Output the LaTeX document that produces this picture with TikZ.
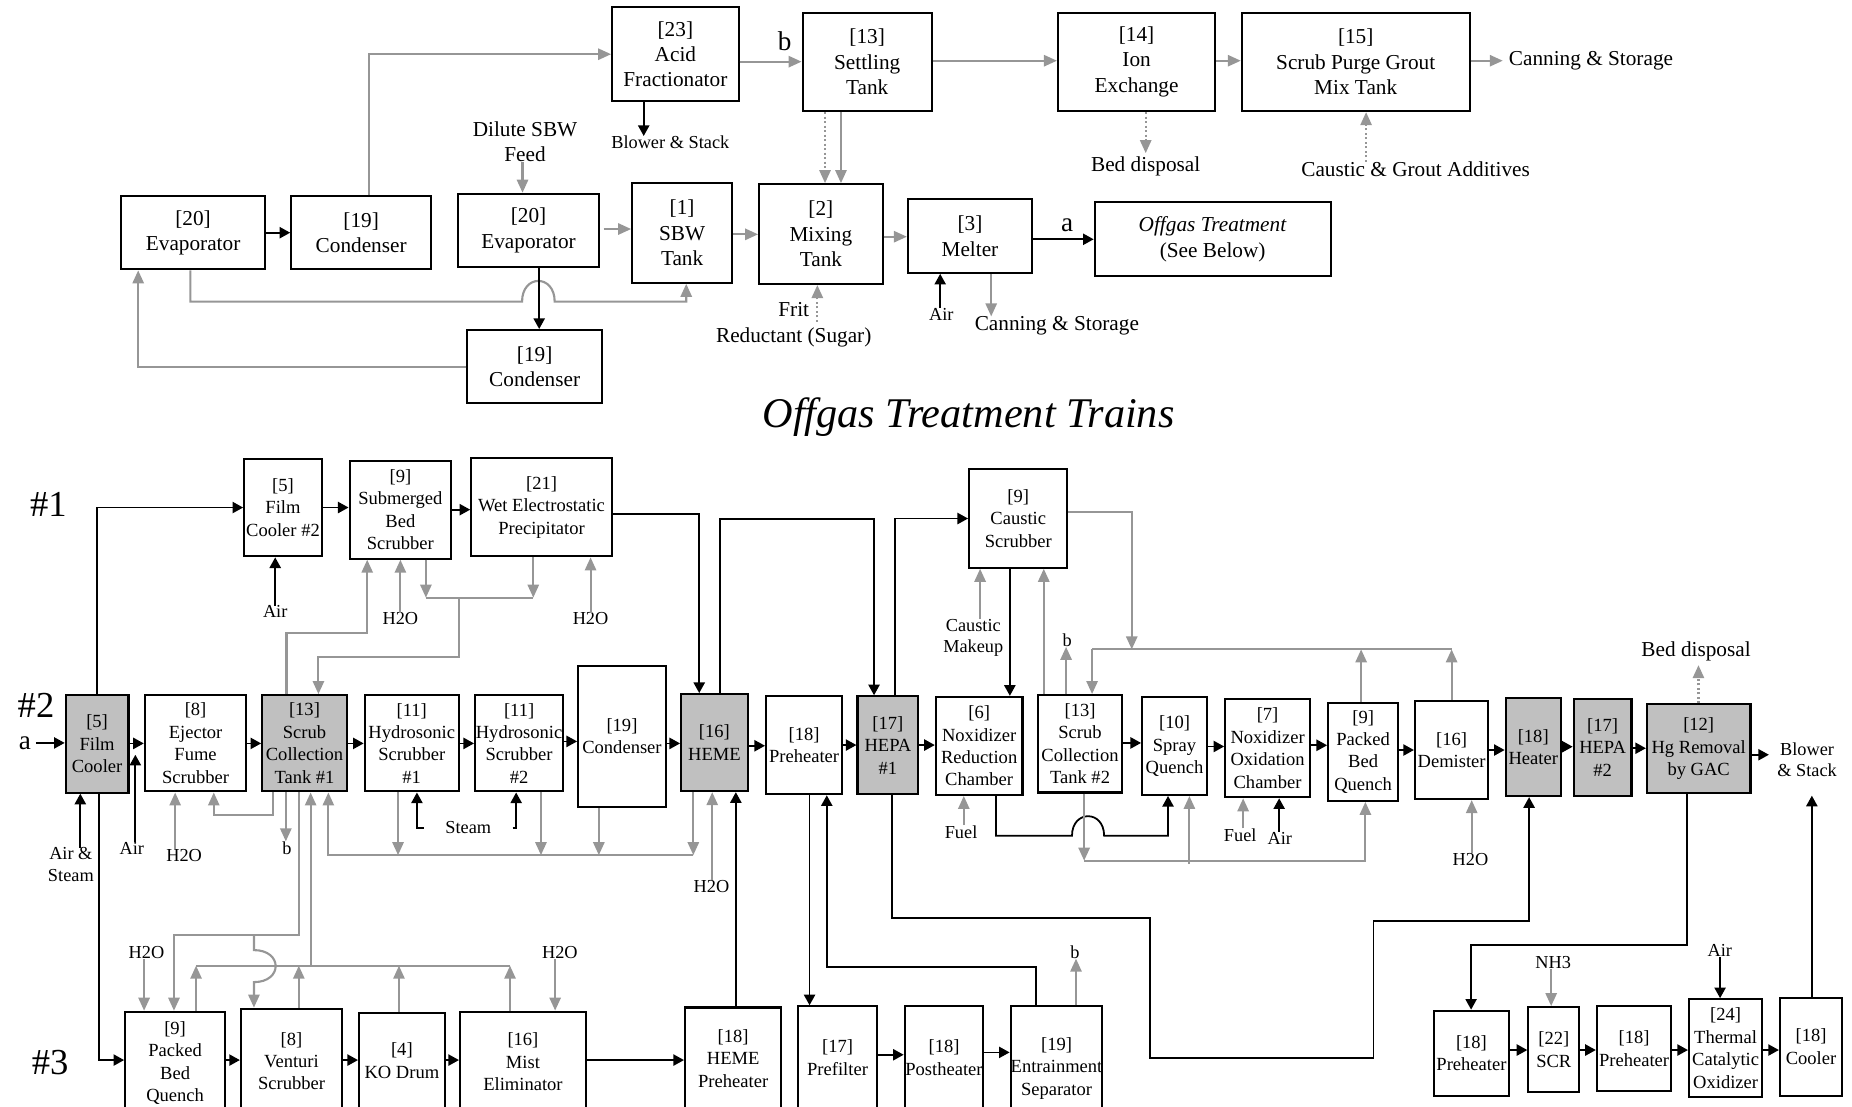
\documentclass[tikz,border=0pt]{standalone}
\usepackage{xcolor}
\usepackage{fontspec}
\setmainfont{Liberation Serif}
\usepackage{pgf,tikz}
\usetikzlibrary{arrows.meta}
\definecolor{flowgray}{RGB}{150,150,150}
\definecolor{boxgray}{RGB}{192,192,192}
\tikzset{
  font={\fontsize{15.7pt}{19pt}\selectfont}}
\tikzset{wh/.style 2 args = {minimum width=#1pt, minimum height=#2pt}}
\newcommand{\topsize}{\fontsize{18pt}{21.5pt}\selectfont}
\newcommand{\labsize}{\fontsize{15.5pt}{18pt}\selectfont}
\newcommand{\letsize}{\fontsize{23pt}{26pt}\selectfont}
\newcommand{\trainsize}{\fontsize{31pt}{34pt}\selectfont}

\begin{document}
\begin{tikzpicture}[x=1pt, y=-1pt]

    \tikzset{edge/.style = {->, > = {Triangle[length=9pt, width=9.5pt]}, line width=1.5pt},
             gedge/.style = {->, > = {Triangle[length=11pt, width=9.5pt]}, line width=1.8pt, color=flowgray},
             gline/.style = {line width=1.8pt, color=flowgray},
             procbox/.style = {draw=black, rectangle, line width=1.8pt, inner sep=0pt, align=center},
             greybox/.style = {procbox, fill=boxgray},
             topbox/.style = {procbox, font=\topsize},
             lab/.style = {inner sep=0pt, align=center, font=\labsize},
             toplab/.style = {inner sep=0pt, align=center, font=\topsize}}

    \useasboundingbox (0,0) rectangle (1568,937);
    \clip (0,0) rectangle (1568,937);

    % vertices (feed side)
    \node[topbox, wh={122}{62}] (evapA) at (163.5,197) {[20]\\Evaporator};
    \node[topbox, wh={118.4}{62}] (condA) at (305.8,197) {[19]\\Condenser};
    \node[topbox, wh={119.5}{62.3}] (evapB) at (447.5,195.2) {[20]\\Evaporator};
    \node[topbox, wh={84.5}{84.2}] (sbwT) at (577.5,197.3) {[1]\\SBW\\Tank};
    \node[topbox, wh={104.5}{84.5}] (mixT) at (695,198.2) {[2]\\Mixing\\Tank};
    \node[topbox, wh={105}{62.1}] (melter) at (821.2,199.9) {[3]\\Melter};
    \node[topbox, wh={199.7}{62.4}] (offgas) at (1026.7,202.5) {\textit{Offgas Treatment}\\(See Below)};
    \node[topbox, wh={114}{62.1}] (condB) at (452.7,310.5) {[19]\\Condenser};
    \node[topbox, wh={107}{79.3}] (acidF) at (571.8,45.9) {[23]\\Acid\\Fractionator};
    \node[topbox, wh={109.3}{83.3}] (settle) at (734.2,52.4) {[13]\\Settling\\Tank};
    \node[topbox, wh={133.1}{83.3}] (ionX) at (962.3,52.4) {[14]\\Ion\\Exchange};
    \node[topbox, wh={192.8}{83.3}] (grout) at (1147.8,52.4) {[15]\\Scrub Purge Grout\\Mix Tank};

    \node[lab] (blowA) at (567.5,120.8) {Blower \& Stack};
    \node[toplab] (bedTop) at (970,141) {Bed disposal};
    \node[toplab] (caustTop) at (1198.5,143.4) {Caustic \& Grout Additives};
    \node[toplab] (canTop) at (1347,51.6) {Canning \& Storage};
    \node[toplab] (dilute) at (444.5,120) {Dilute SBW\\Feed};
    \node[toplab] (frit) at (672,275) {Frit\\Reductant (Sugar)};
    \node[lab] (airTop) at (797,266) {Air};
    \node[toplab] (canBot) at (894.8,276) {Canning \& Storage};
    \node[inner sep=0pt, font=\letsize] (bTop) at (664.4,35.3) {b};
    \node[inner sep=0pt, font=\letsize] (aTop) at (903.5,190.5) {a};
    \coordinate (fritIn) at (692,272.4);

    %edges (feed side)
    \draw[edge] (evapA) -- (condA);
    \draw[gedge] ([xshift=6.6pt]condA.north) |- (acidF.west);
    \draw[edge] (acidF.south -| 545,0) -- (blowA.north -| 545,0);
    \draw[gedge] (acidF.east |- 0,52.2) -- (settle.west |- 0,52.2);
    \draw[gedge] (settle.east |- 0,51.4) -- (ionX.west |- 0,51.4);
    \draw[gedge] (ionX.east |- 0,51.4) -- (grout.west |- 0,51.4);
    \draw[gedge, shorten >=5pt] (grout.east |- 0,51.4) -- (canTop.west |- 0,51.4);
    \draw[gedge, dotted, shorten >=3pt] (ionX.south -| 970,0) -- (bedTop.north -| 970,0);
    \draw[gedge, dotted] (caustTop.north -| 1156.6,0) -- (grout.south -| 1156.6,0);
    \draw[gedge, dotted] (settle.south -| 698.5,0) -- (mixT.north -| 698.5,0);
    \draw[gedge] (settle.south -| 712,0) -- (mixT.north -| 712,0);
    \draw[gedge] (dilute.south -| 442.4,0) -- (evapB.north -| 442.4,0);
    \draw[gedge, shorten <=3pt] (evapB.east |- 0,193.9) -- (sbwT.west |- 0,193.9);
    \draw[gedge] (sbwT.east |- 0,198.4) -- (mixT.west |- 0,198.4);
    \draw[gedge] (mixT.east |- 0,200.4) -- (melter.west |- 0,200.4);
    \draw[edge] (melter.east |- 0,202.6) -- (offgas.west |- 0,202.6);
    \draw[edge] (airTop.north -| 796,0) -- (melter.south -| 796,0);
    \draw[gedge] (melter.south -| 839.2,0) -- (canBot.north -| 839.2,0);
    \draw[gedge, dotted] (fritIn) -- (mixT.south -| fritIn);
    \draw[gedge] (evapA.south -| 161.2,0) -- (161.2,255.4) -- (442,255.4)
        .. controls (442,232) and (469.6,232) .. (469.6,255.4) -| (sbwT.south -| 581,0);
    \draw[edge] (evapB.south -| 456.5,0) -- (condB.north -| 456.5,0);
    \draw[gedge] (condB.west) -| (evapA.south -| 117,0);

    \node[inner sep=0pt, font=\fontsize{35.8pt}{40pt}\selectfont\itshape] (title) at (820,353) {Offgas Treatment Trains};

    % vertices (train #1)
    \node[procbox, wh={65.7}{82.6}] (film2) at (239.6,429.7) {[5]\\Film\\Cooler \#2};
    \node[procbox, wh={86}{83}] (subBed) at (339,431.5) {[9]\\Submerged\\Bed\\Scrubber};
    \node[procbox, wh={119}{83}] (wesp) at (458.5,429.5) {[21]\\Wet Electrostatic\\Precipitator};
    \node[procbox, wh={83.2}{83.3}] (causS) at (862.1,439) {[9]\\Caustic\\Scrubber};

    % vertices (train #2)
    \node[greybox, wh={53.1}{82.5}] (film1) at (82.2,629.8) {[5]\\Film\\Cooler};
    \node[procbox, wh={85.9}{81.5}] (ejector) at (165.6,629.3) {[8]\\Ejector\\Fume\\Scrubber};
    \node[greybox, wh={71.6}{81.5}] (scrub1) at (257.8,629.3) {[13]\\Scrub\\Collection\\Tank \#1};
    \node[procbox, wh={79.6}{81.5}] (hydro1) at (348.6,629.3) {[11]\\Hydrosonic\\Scrubber\\\#1};
    \node[procbox, wh={74.5}{81.5}] (hydro2) at (439.5,629.3) {[11]\\Hydrosonic\\Scrubber\\\#2};
    \node[procbox, wh={74.2}{119.4}] (cond2) at (526.6,623.3) {[19]\\Condenser};
    \node[greybox, wh={56.3}{82.1}] (heme) at (604.85,628.75) {[16]\\HEME};
    \node[procbox, wh={64.4}{82.9}] (preh1) at (680.8,631) {[18]\\Preheater};
    \node[greybox, wh={51.5}{82.9}] (hepa1) at (751.75,631) {[17]\\HEPA\\\#1};
    \node[procbox, wh={73.3}{83}] (noxRed) at (829,631.5) {[6]\\Noxidizer\\Reduction\\Chamber};
    \node[procbox, wh={71.8}{82.5}] (scrub2) at (914.4,629.75) {[13]\\Scrub\\Collection\\Tank \#2};
    \node[procbox, wh={54.8}{82.6}] (spray) at (994.4,631.7) {[10]\\Spray\\Quench};
    \node[procbox, wh={71.7}{83}] (noxOx) at (1073.2,633.5) {[7]\\Noxidizer\\Oxidation\\Chamber};
    \node[procbox, wh={59.2}{83}] (packed1) at (1154.1,636.5) {[9]\\Packed\\Bed\\Quench};
    \node[procbox, wh={62}{83}] (demist) at (1229,635) {[16]\\Demister};
    \node[greybox, wh={46.6}{83.3}] (heater) at (1298.1,632.35) {[18]\\Heater};
    \node[greybox, wh={48.9}{82.4}] (hepa2) at (1356.85,632.8) {[17]\\HEPA\\\#2};
    \node[greybox, wh={87.6}{75.3}] (hgGAC) at (1438.2,634) {[12]\\Hg Removal\\by GAC};

    % vertices (train #3)
    \node[procbox, wh={84.5}{86.8}] (packed3) at (148.25,900) {[9]\\Packed\\Bed\\Quench};
    \node[procbox, wh={85.6}{88.8}] (venturi) at (246.8,898.4) {[8]\\Venturi\\Scrubber};
    \node[procbox, wh={72.5}{80.4}] (koDrum) at (340.25,898) {[4]\\KO Drum};
    \node[procbox, wh={106.5}{85}] (mist) at (442.75,899) {[16]\\Mist\\Eliminator};
    \node[procbox, wh={81.5}{86}] (hemeP) at (620.75,896) {[18]\\HEME\\Preheater};
    \node[procbox, wh={66.6}{87}] (prefilt) at (709.1,895.5) {[17]\\Prefilter};
    \node[procbox, wh={66.5}{87}] (posth) at (799.25,895.5) {[18]\\Postheater};
    \node[procbox, wh={77}{105.2}] (entrain) at (894.5,904.6) {[19]\\Entrainment\\Separator};
    \node[procbox, wh={63.6}{72}] (preh2) at (1245.8,891.7) {[18]\\Preheater};
    \node[procbox, wh={43}{71.9}] (scr) at (1315.5,888.65) {[22]\\SCR};
    \node[procbox, wh={63}{72}] (preh3) at (1383.5,887.8) {[18]\\Preheater};
    \node[procbox, wh={62}{82.6}] (thermo) at (1461,887.3) {[24]\\Thermal\\Catalytic\\Oxidizer};
    \node[procbox, wh={52.6}{83}] (cooler) at (1533.3,886.2) {[18]\\Cooler};

    % labels
    \node[inner sep=0pt, font=\trainsize] (tr1) at (41,427) {\#1};
    \node[inner sep=0pt, font=\trainsize] (tr2) at (30.5,597) {\#2};
    \node[inner sep=0pt, font=\trainsize] (tr3) at (42.5,900) {\#3};
    \node[inner sep=0pt, font=\letsize] (aLeft) at (21,629) {a};
    \node[lab] (airA) at (233,518) {Air};
    \node[lab] (h2oA) at (339,524) {H2O};
    \node[lab] (h2oB) at (500,524) {H2O};
    \node[lab] (airSteam) at (60,732) {Air \&\\Steam};
    \node[lab] (air2) at (111.6,718) {Air};
    \node[lab] (h2oC) at (155.9,724) {H2O};
    \node[lab] (bA) at (243,718) {b};
    \node[lab] (steam) at (396.5,701) {Steam};
    \node[lab] (h2oD) at (602.4,750.8) {H2O};
    \node[lab] (h2oE) at (124,806.6) {H2O};
    \node[lab] (h2oF) at (474,806.6) {H2O};
    \node[lab] (bB) at (910,806) {b};
    \node[lab] (caustic) at (824,540) {Caustic\\Makeup};
    \node[lab] (bC) at (903.5,542) {b};
    \node[lab] (fuelA) at (813.7,704.2) {Fuel};
    \node[lab] (fuelB) at (1050,707) {Fuel};
    \node[lab] (airN) at (1083.5,709.6) {Air};
    \node[lab] (h2oG) at (1245,728) {H2O};
    \node[toplab] (bedBot) at (1436,551.8) {Bed disposal};
    \node[lab] (blower) at (1530,643) {Blower\\\& Stack};
    \node[lab] (nh3) at (1315,815) {NH3};
    \node[lab] (airT) at (1456,805) {Air};
    \coordinate (airJoin) at (114.6,639);
    \coordinate (jL) at (360.6,506);
    \coordinate (jR) at (451.5,506);

    %edges (train #1)
    \draw[edge, shorten <=4pt] (aLeft.east) -- (film1.west |- aLeft.east);
    \draw[edge] (film1.north) |- (film2.west);
    \draw[edge] (film2.east) -- (film2.east -| subBed.west);
    \draw[edge] (subBed.east) -- (subBed.east -| wesp.west);
    \draw[edge] (wesp.east |- 0,435) -| ([xshift=-12.85pt]heme.north);
    \draw[edge] (airA.north) -- (film2.south -| airA.north);
    \draw[gedge] (h2oA.north) -- (subBed.south -| h2oA.north);
    \draw[gedge] (h2oB.north) -- (wesp.south -| h2oB.north);
    \draw[gedge] (subBed.south -| jL) -- (jL);
    \draw[gedge] (wesp.south -| jR) -- (jR);
    \draw[gline] (jL) -- (jR);
    \draw[gedge] (388.4,506) |- (269.6,556) -- (scrub1.north -| 269.6,0);
    \draw[gedge] (scrub1.north -| 242.6,0) |- (310.9,536) -- (subBed.south -| 310.9,0);

    %edges (train #2)
    \draw[edge] (film1.east |- 0,629.4) -- (ejector.west |- 0,629.4);
    \draw[edge] (ejector.east |- 0,629.4) -- (scrub1.west |- 0,629.4);
    \draw[edge] (scrub1.east |- 0,629.4) -- (hydro1.west |- 0,629.4);
    \draw[edge] (hydro1.east |- 0,629.4) -- (hydro2.west |- 0,629.4);
    \draw[edge] (hydro2.east |- 0,627.7) -- (cond2.west |- 0,627.7);
    \draw[edge] (cond2.east |- 0,629.4) -- (heme.west |- 0,629.4);
    \draw[edge] (heme.east |- 0,631.4) -- (preh1.west |- 0,631.4);
    \draw[edge] (preh1.east |- 0,630.8) -- (hepa1.west |- 0,630.8);
    \draw[edge] (hepa1.east |- 0,630.8) -- (noxRed.west |- 0,630.8);
    \draw[edge] (scrub2.east |- 0,629) -- (spray.west |- 0,629);
    \draw[edge] (spray.east |- 0,632) -- (noxOx.west |- 0,632);
    \draw[edge] (noxOx.east |- 0,631) -- (packed1.west |- 0,631);
    \draw[edge] (packed1.east |- 0,635) -- (demist.west |- 0,635);
    \draw[edge] (demist.east |- 0,635) -- (heater.west |- 0,635);
    \draw[edge] (heater.east |- 0,632.2) -- (hepa2.west |- 0,632.2);
    \draw[edge] (hepa2.east |- 0,633.5) -- (hgGAC.west |- 0,633.5);
    \draw[edge, shorten >=7pt] (hgGAC.east |- 0,639) -- (blower.west |- 0,639);
    \draw[gedge, dotted, shorten >=3pt] (hgGAC.north -| 1438,0) -- (bedBot.south -| 1438,0);
    \draw[edge] (airSteam.north -| 68,0) -- (film1.south -| 68,0);
    \draw[edge] (air2.north -| airJoin) -- (airJoin);
    \draw[gedge] (h2oC.north -| 148.3,0) -- (ejector.south -| 148.3,0);
    \draw[gedge] (scrub1.south -| 231.3,0) |- (181,690) -- (ejector.south -| 181,0);
    \draw[gedge] (scrub1.south -| 242,0) -- (bA.north -| 242,0);
    \draw[gedge] (hydro1.south -| 337,0) -- (337,724);
    \draw[gedge] (hydro2.south -| 458,0) -- (458,724);
    \draw[gedge] (cond2.south -| 507,0) -- (507,724);
    \draw[gedge] (heme.south -| 587,0) -- (587,724);
    \draw[gedge] (587,724) -- (278,724) -- (scrub1.south -| 278,0);
    \draw[edge] ([xshift=-18pt]steam.west) -| (hydro1.south -| 353,0);
    \draw[edge] ([xshift=18pt]steam.east) -| (hydro2.south -| 437,0);
    \draw[gedge] (h2oD.north -| 603,0) -- (heme.south -| 603,0);
    \draw[edge] (heme.north -| 609.7,0) |- (740,439.7) -- (hepa1.north -| 740,0);
    \draw[edge] (hepa1.north -| 758,0) |- (causS.west);
    \draw[edge] (causS.south -| 855,0) -- (noxRed.north -| 855,0);
    \draw[gedge] (caustic.north -| 829.8,0) -- (causS.south -| 829.8,0);
    \draw[gedge] (scrub2.north -| 883.7,0) -- (causS.south -| 883.7,0);
    \draw[gedge] (scrub2.north -| 902.6,0) -- (bC.south -| 902.6,0);
    \draw[gedge] (causS.east |- 0,433.3) -| (958.2,549.8);
    \draw[gline] (924.6,549.8) -- (1229,549.8);
    \draw[gedge] (924.6,549.8) -- (scrub2.north -| 924.6,0);
    \draw[gedge] (packed1.north -| 1152.4,0) -- (1152.4,549.8);
    \draw[gedge] (demist.north -| 1229,0) -- (1229,549.8);
    \draw[edge] (noxRed.south -| 843.3,0) |- (907.6,707.6)
        .. controls (907.6,685.5) and (934.8,685.5) .. (934.8,707.6) -| (spray.south -| 988.9,0);
    \draw[gedge] (scrub2.south -| 917.9,0) -- (917.9,728.7);
    \draw[gedge] (917.9,728.7) -| (packed1.south -| 1156,0);
    \draw[gedge] (1007,731.6) -- (spray.south -| 1007,0);
    \draw[gedge] (fuelA.north -| 816,0) -- (noxRed.south -| 816,0);
    \draw[gedge] (fuelB.north -| 1052.5,0) -- (noxOx.south -| 1052.5,0);
    \draw[edge] (airN.north -| 1083,0) -- (noxOx.south -| 1083,0);
    \draw[gedge] (h2oG.north -| 1246,0) -- (demist.south -| 1246,0);

    %edges (train #3)
    \draw[edge] (film1.south -| 84,0) |- (packed3.west |- 0,897.5);
    \draw[gedge] (scrub1.south -| 253,0) |- (147.3,791.7) -- (packed3.north -| 147.3,0);
    \draw[gedge] (215,791.7) -- (215,804.4) .. controls (239.5,804.4) and (239.5,831.5) .. (215,831.5) -- (venturi.north -| 215,0);
    \draw[gline] (166,817.6) -- (431.8,817.6);
    \draw[gedge] (263,817.6) -- (scrub1.south -| 263,0);
    \draw[gedge] (packed3.north -| 166,0) -- (166,817.6);
    \draw[gedge] (venturi.north -| 253,0) -- (253,817.6);
    \draw[gedge] (koDrum.north -| 337.8,0) -- (337.8,817.6);
    \draw[gedge] (mist.north -| 431.8,0) -- (431.8,817.6);
    \draw[gedge] (h2oE.south -| 122,0) -- (packed3.north -| 122,0);
    \draw[gedge] (h2oF.south -| 470,0) -- (mist.north -| 470,0);
    \draw[edge] (packed3.east |- 0,897.5) -- (venturi.west |- 0,897.5);
    \draw[edge] (venturi.east |- 0,897.5) -- (koDrum.west |- 0,897.5);
    \draw[edge] (koDrum.east |- 0,897.5) -- (mist.west |- 0,897.5);
    \draw[edge] (mist.east |- 0,897.5) -- (hemeP.west |- 0,897.5);
    \draw[edge] (hemeP.north -| 623,0) -- (heme.south -| 623,0);
    \draw[edge] (prefilt.east |- 0,893) -- (posth.west |- 0,893);
    \draw[edge] (posth.east |- 0,891) -- (entrain.west |- 0,891);
    \draw[edge] (preh1.south -| 685.4,0) -- (prefilt.north -| 685.4,0);
    \draw[edge] (entrain.north -| 877,0) |- (700,818.7) -- (preh1.south -| 700,0);
    \draw[gedge] (entrain.north -| 911,0) -- (bB.south -| 911,0);
    \draw[edge] (hepa1.south -| 755,0) |- (973.4,777) |- (1162.8,895.6) |- (1294.6,779.5) -- (heater.south -| 1294.6,0);
    \draw[edge] (hgGAC.south -| 1428.5,0) |- (1245.5,800) -- (preh2.north -| 1245.5,0);
    \draw[gedge] (nh3.south -| 1313.3,0) -- (scr.north -| 1313.3,0);
    \draw[edge] (airT.south -| 1456.3,0) -- (thermo.north -| 1456.3,0);
    \draw[edge] (preh2.east |- 0,889) -- (scr.west |- 0,889);
    \draw[edge] (scr.east |- 0,889) -- (preh3.west |- 0,889);
    \draw[edge] (preh3.east |- 0,889) -- (thermo.west |- 0,889);
    \draw[edge] (thermo.east |- 0,889) -- (cooler.west |- 0,889);
    \draw[edge, shorten >=16pt] (cooler.north -| 1534,0) -- (blower.south -| 1534,0);

\end{tikzpicture}
\end{document}
